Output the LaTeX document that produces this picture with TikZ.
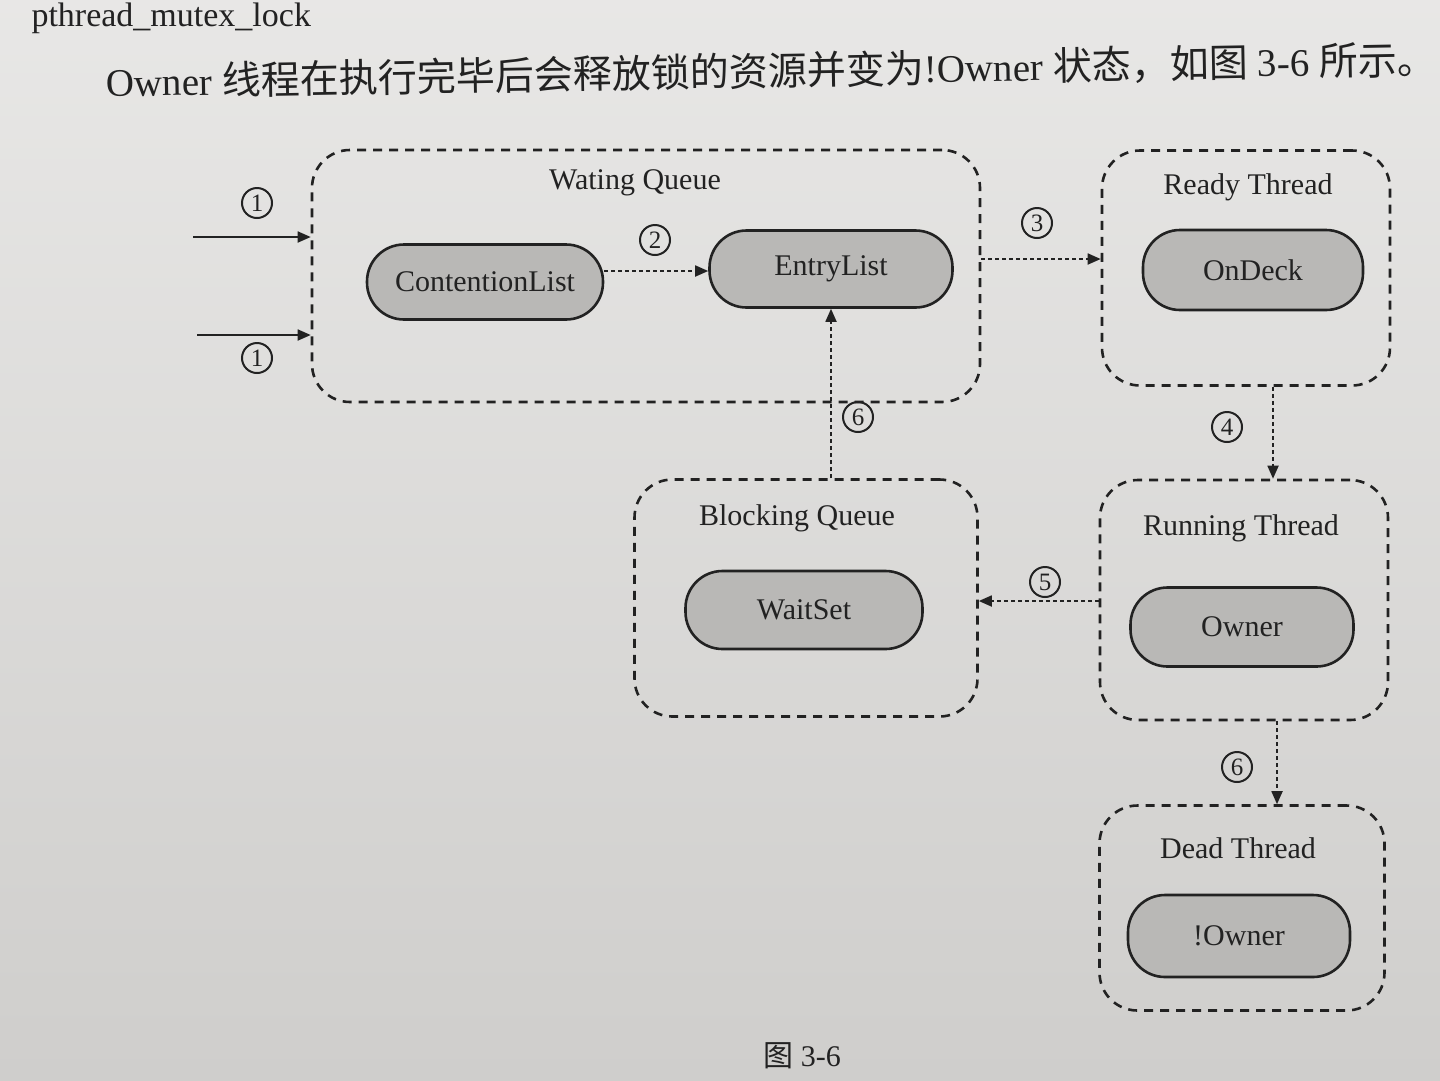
\documentclass[tikz,border=0pt]{standalone}
\usepackage{fontspec}
\setmainfont{Liberation Serif}
\newfontfamily\cjk{Noto Sans CJK SC}
\usetikzlibrary{arrows.meta}
\definecolor{paper}{HTML}{DEDDDB}
\definecolor{paperdark}{HTML}{CFCECC}
\definecolor{pillgray}{HTML}{B9B8B6}
\definecolor{ink}{HTML}{222222}
\tikzset{
  group/.style={draw=ink, line width=2.6pt, dash pattern=on 9pt off 7pt,
    rounded corners=38pt, inner sep=0pt},
  grouptitle/.style={font=\fontsize{30}{30}\selectfont, text=ink},
  pill/.style={draw=ink, line width=2.6pt, fill=pillgray, rounded corners=37pt,
    font=\fontsize{30}{30}\selectfont, text=ink, inner sep=0pt},
  num/.style={circle, draw=ink, line width=2pt, inner sep=0pt, minimum size=30pt,
    font=\fontsize{25}{25}\selectfont, text=ink},
  flow/.style={ink, line width=1.8pt, dash pattern=on 4pt off 3pt,
    -{Triangle[length=13pt,width=11pt]}},
  enter/.style={ink, line width=1.8pt, -{Triangle[length=13pt,width=11pt]}}
}
\begin{document}
\begin{tikzpicture}[x=1pt,y=-1pt]
\useasboundingbox (0,0) rectangle (1440,1080);
% page background
\shade[top color=paper!70!white, bottom color=paperdark] (0,0) rectangle (1440,1080);

% running text of the page
\node[anchor=base west, font=\fontsize{34}{34}\selectfont, text=ink] (prevline) at (28,26) {pthread\_mutex\_lock};
\node[anchor=base west, rotate=1, font=\fontsize{39}{39}\selectfont, text=ink] (para) at (103,97)
  {Owner {\cjk 线程在执行完毕后会释放锁的资源并变为}!Owner {\cjk 状态，如图} 3-6 {\cjk 所示。}};

% groups
\node[group, minimum width=668pt, minimum height=252pt] (wq) at (646,276) {};
\node[grouptitle] (wqt) at (635,183) {Wating Queue};
\node[group, minimum width=288pt, minimum height=235pt] (rt) at (1246,268) {};
\node[grouptitle] (rtt) at (1248,187) {Ready Thread};
\node[group, minimum width=343pt, minimum height=237pt] (bq) at (806,598) {};
\node[grouptitle] (bqt) at (797,518) {Blocking Queue};
\node[group, minimum width=288pt, minimum height=240pt] (run) at (1244,600) {};
\node[grouptitle] (runt) at (1241,528) {Running Thread};
\node[group, minimum width=285pt, minimum height=205pt] (dt) at (1242,908) {};
\node[grouptitle] (dtt) at (1238,848) {Dead Thread};

% states
\node[pill, minimum width=236pt, minimum height=75pt] (cl) at (485,282) {ContentionList};
\node[pill, minimum width=243pt, minimum height=77pt] (el) at (831,269) {EntryList};
\node[pill, minimum width=220pt, minimum height=80pt] (od) at (1253,270) {OnDeck};
\node[pill, minimum width=237pt, minimum height=78pt] (ws) at (804,610) {WaitSet};
\node[pill, minimum width=223pt, minimum height=79pt] (ow) at (1242,627) {Owner};
\node[pill, minimum width=222pt, minimum height=82pt] (no) at (1239,936) {!Owner};

% transitions
\coordinate (in1) at (193,237);
\coordinate (in2) at (197,335);
\draw[enter] (in1) -- (wq.west |- in1);
\draw[enter] (in2) -- (wq.west |- in2);
\node[num] (n1a) at (257,203) {1};
\node[num] (n1b) at (257,358) {1};

\draw[flow] (cl.east |- 0,271) -- (el.west |- 0,271);
\node[num] (n2) at (655,240) {2};

\draw[flow] (wq.east |- 0,259) -- (rt.west |- 0,259);
\node[num] (n3) at (1037,223) {3};

\draw[flow] (rt.south -| 1273,0) -- (run.north -| 1273,0);
\node[num] (n4) at (1227,427) {4};

\draw[flow] (run.west |- 0,601) -- (bq.east |- 0,601);
\node[num] (n5) at (1045,582) {5};

\draw[flow] (bq.north -| el.south) -- (el.south);
\node[num] (n6a) at (858,417) {6};

\draw[flow] (run.south -| 1277,0) -- (dt.north -| 1277,0);
\node[num] (n6b) at (1237,767) {6};

% caption
\node[font=\fontsize{30}{30}\selectfont, text=ink] (cap) at (802,1056) {{\cjk 图} 3-6};
\end{tikzpicture}
\end{document}
